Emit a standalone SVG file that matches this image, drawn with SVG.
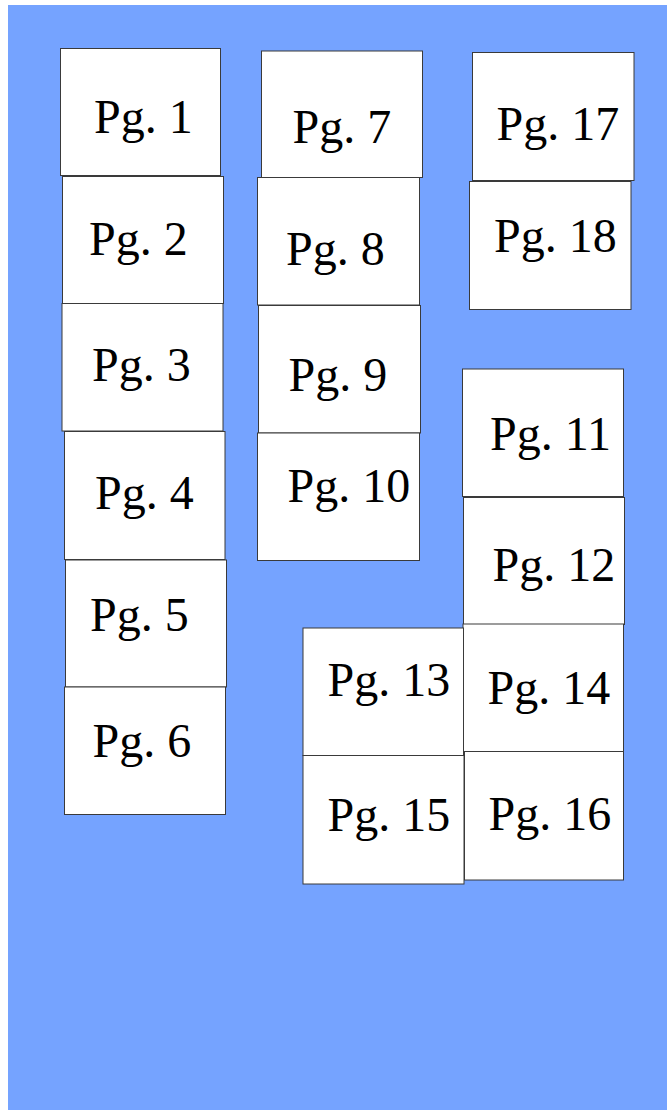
<svg xmlns="http://www.w3.org/2000/svg" width="667" height="1110" viewBox="0 0 667 1110">
<style>
.pg rect{fill:#ffffff;stroke:#3a3a3a;stroke-width:1}
.pg text{font-family:"Liberation Serif","Times New Roman",serif;font-size:48px;fill:#000000}
</style>
<rect x="8" y="5" width="659" height="1105" fill="#75a3ff"/>
<g id="connectors"></g>
<g id="pg1" class="pg"><rect x="60.5" y="48.5" width="160" height="127"/><text x="94" y="133">Pg. 1</text></g>
<g id="pg2" class="pg"><rect x="62.5" y="176.5" width="161" height="127"/><text x="89" y="255">Pg. 2</text></g>
<g id="pg3" class="pg"><rect x="62" y="303.5" width="161" height="127.5"/><text x="92" y="381">Pg. 3</text></g>
<g id="pg4" class="pg"><rect x="64.5" y="431.5" width="160.5" height="128"/><text x="95" y="509">Pg. 4</text></g>
<g id="pg5" class="pg"><rect x="65.5" y="560" width="161" height="127"/><text x="90" y="631">Pg. 5</text></g>
<g id="pg6" class="pg"><rect x="64.5" y="687" width="161" height="127.5"/><text x="92.5" y="757">Pg. 6</text></g>
<g id="pg7" class="pg"><rect x="261.5" y="51" width="161" height="126.5"/><text x="292.5" y="143">Pg. 7</text></g>
<g id="pg8" class="pg"><rect x="257.5" y="177.5" width="162" height="127.5"/><text x="286" y="265">Pg. 8</text></g>
<g id="pg9" class="pg"><rect x="258.5" y="305.5" width="162" height="127.5"/><text x="288.5" y="391">Pg. 9</text></g>
<g id="pg10" class="pg"><rect x="257.5" y="433" width="162" height="127.5"/><text x="287.5" y="502">Pg. 10</text></g>
<g id="pg17" class="pg"><rect x="472.5" y="52.5" width="161.5" height="128"/><text x="496.5" y="139.5">Pg. 17</text></g>
<g id="pg18" class="pg"><rect x="469.5" y="181.5" width="161.5" height="128"/><text x="494" y="251.5">Pg. 18</text></g>
<g id="pg11" class="pg"><rect x="462.5" y="369" width="161" height="127.5"/><text x="490" y="450">Pg. 11</text></g>
<g id="pg12" class="pg"><rect x="463.5" y="497.5" width="161" height="127"/><text x="492.5" y="581">Pg. 12</text></g>
<g id="pg14" class="pg"><rect x="463" y="624" width="160.5" height="127.5"/><text x="487.5" y="704">Pg. 14</text></g>
<g id="pg16" class="pg"><rect x="464.5" y="751.5" width="159" height="128.5"/><text x="488.5" y="830">Pg. 16</text></g>
<g id="pg13" class="pg"><rect x="303" y="628" width="160.5" height="127.5"/><text x="327.5" y="696">Pg. 13</text></g>
<g id="pg15" class="pg"><rect x="303" y="755.5" width="161" height="128.5"/><text x="327.5" y="830.5">Pg. 15</text></g>
</svg>
